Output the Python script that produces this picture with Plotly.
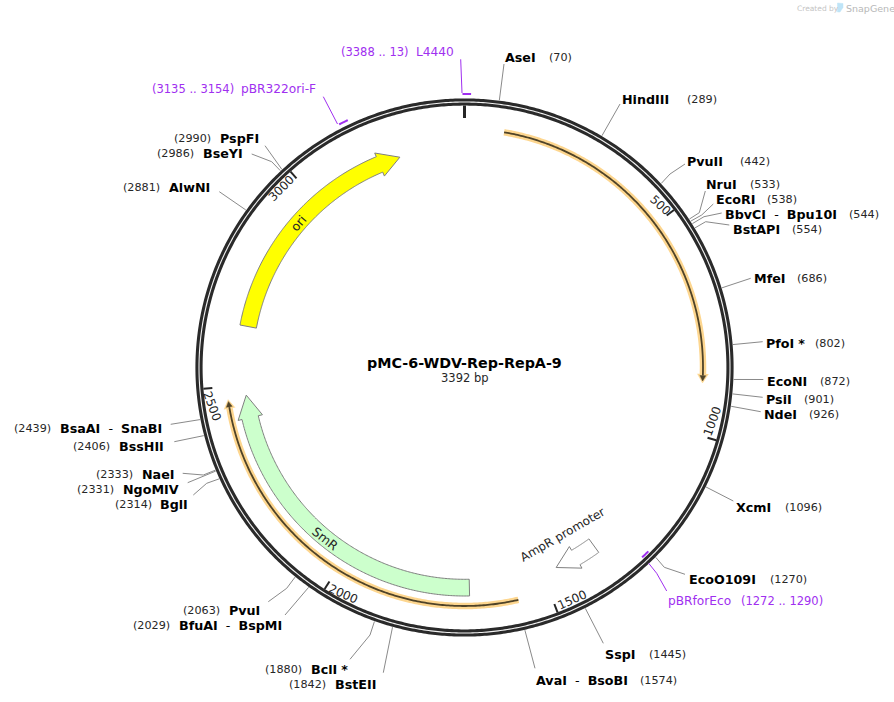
import numpy as np
import plotly.graph_objects as go

# ---------- data ----------
PLASMID_NAME = "pMC-6-WDV-Rep-RepA-9"
PLASMID_BP = 3392

SITE_NAMES = ["AseI", "HindIII", "PvuII", "NruI", "EcoRI", "BbvCI", "BstAPI", "MfeI", "PfoI", "EcoNI",
              "PsiI", "NdeI", "XcmI", "EcoO109I", "SspI", "AvaI", "BstEII", "BclI", "BfuAI", "PvuI",
              "BglI", "NgoMIV", "NaeI", "BssHII", "BsaAI", "AlwNI", "BseYI", "PspFI"]
SITE_PARTNERS = {"BbvCI": "Bpu10I", "AvaI": "BsoBI", "BfuAI": "BspMI", "BsaAI": "SnaBI"}
SITE_STARRED = ["PfoI", "BclI"]
SITE_BP = [70, 289, 442, 533, 538, 544, 554, 686, 802, 872,
           901, 926, 1096, 1270, 1445, 1574, 1842, 1880, 2029, 2063,
           2314, 2331, 2333, 2406, 2439, 2881, 2986, 2990]

TICK_BP = [500, 1000, 1500, 2000, 2500, 3000]

PRIMER_NAMES = ["L4440", "pBR322ori-F", "pBRforEco"]
PRIMER_START = [3388, 3135, 1272]
PRIMER_END = [13, 3154, 1290]

ORF_START = [90, 1573]
ORF_END = [883, 2471]

FEATURE_NAMES = ["ori", "SmR", "AmpR promoter"]
FEATURE_TAIL = [2645, 1684, 1357]
FEATURE_HEAD = [3178, 2420, 1410]
FEATURE_TIP = [3231, 2476, 1464]

# ---------- layout of the drawing (pixels) ----------
W, H = 894, 702
CX, CY = 464.5, 367.5
R_RING, R_IN = 265.5, 262.0
DARK = "#262626"
GREY = "#8a8a8a"
PURPLE = "#a02ff0"
NAME_SIZE, POS_SIZE = 12.7, 11.2

# leader end (x, y), optional elbow, name x, position x, row y, in site order
SITE_LAYOUT = {
    "AseI": ((504, 64), None, 505, 549, 57),
    "HindIII": ((620, 104), None, 622, 687, 99),
    "PvuII": ((685, 164), (670, 174), 687, 740, 161),
    "NruI": ((705.3, 191), (699.3, 212.7), 706, 750, 184),
    "EcoRI": ((713.3, 204), (701.7, 215), 716, 767, 199),
    "BbvCI": ((721.7, 213), (704, 216.7), 725, 849, 214),
    "BstAPI": ((729.3, 225), (705.7, 221.7), 733, 792, 229),
    "MfeI": ((750.7, 278.3), None, 754, 797, 278),
    "PfoI": ((762.7, 341.7), None, 766, 815, 343),
    "EcoNI": ((763.3, 379.5), None, 767, 820, 381),
    "PsiI": ((762.7, 397.3), None, 766, 804, 399),
    "NdeI": ((760.7, 411.7), None, 764, 809, 414),
    "XcmI": ((733.3, 501), None, 736, 785, 507),
    "EcoO109I": ((685, 574.3), (664.3, 567.3), 689, 770, 579),
    "SspI": ((603.3, 643.3), None, 605, 649, 654),
    "AvaI": ((535, 668.3), None, 536, 640, 680),
    "BstEII": ((383.3, 672.7), None, 335, 289, 684),
    "BclI": ((350, 659.3), (370, 635), 311, 265, 669),
    "BfuAI": ((285, 615), None, 179, 133, 625),
    "PvuI": ((268.3, 601.7), (286.7, 588.3), 229, 183, 610),
    "BglI": ((193.3, 495), (206.7, 483.3), 160, 115, 504),
    "NgoMIV": ((187.7, 482.7), None, 123, 77, 489),
    "NaeI": ((182.7, 473.3), (203.3, 475), 142, 96, 474),
    "BssHII": ((174.3, 441.7), None, 119, 73, 446),
    "BsaAI": ((170.7, 424.3), None, 60, 14, 428),
    "AlwNI": ((219.3, 191.7), None, 169, 123, 187),
    "BseYI": ((251.7, 154), (271.7, 161.7), 203, 157, 153),
    "PspFI": ((265, 145.7), None, 220, 174, 138),
}
TICK_TEXT_XY = [(660, 205, 42), (712.5, 421, -70), (572, 600, -24), (343, 594, 24), (212, 406, 70), (281.7, 188, -45)]
# primer: radius, leader points, name x, position x, row y
PRIMER_LAYOUT = {
    "L4440": (273.5, [(462, 93), (460.7, 59.3)], 416, 341, 52),
    "pBR322ori-F": (273.5, [(337.5, 124), (323.3, 96.7)], 241, 152, 89),
    "pBRforEco": (260, [(648.7, 563.3), (656.7, 573.3), (666.7, 591)], 668, 741, 601),
}
FEATURE_STYLE = {
    "ori": ("#ffff00", (298, 223, -49), 12.5),
    "SmR": ("#ccffcc", (325, 538, 38), 12.5),
    "AmpR promoter": ("#ffffff", (562, 535, -30), 12),
}


def polar(bp, r):
    a = np.radians(np.asarray(bp, dtype=float) / PLASMID_BP * 360.0)
    return CX + r * np.sin(a), CY - r * np.cos(a)


def arc(b0, b1, r, n=200):
    return polar(np.linspace(b0, b1, n), r)


fig = go.Figure()
annotations = []


def line(x, y, color, width):
    fig.add_trace(go.Scatter(x=list(x), y=list(y), mode="lines", hoverinfo="skip", showlegend=False,
                             line=dict(color=color, width=width, simplify=False)))


def poly(x, y, fill, edge, width=1):
    fig.add_trace(go.Scatter(x=list(x), y=list(y), mode="lines", fill="toself", fillcolor=fill, hoverinfo="skip",
                             showlegend=False, line=dict(color=edge, width=width, simplify=False)))


def text(x, y, s, size, color=DARK, anchor="left", angle=0):
    annotations.append(dict(x=x, y=y, xref="x", yref="y", text=s, showarrow=False,
                            xanchor=anchor, yanchor="middle", textangle=angle, borderpad=0, borderwidth=0,
                            font=dict(family="DejaVu Sans", size=size, color=color)))


# numbered ticks
x, y = polar([0, 0], np.array([R_IN, 249.5]))
line(x, y, DARK, 3)
for bp, (tx, ty, ang) in zip(TICK_BP, TICK_TEXT_XY):
    x, y = polar([bp, bp], np.array([R_IN, 253.0]))
    line(x, y, DARK, 2)
    text(tx, ty, str(bp), 12, anchor="center", angle=ang)

# restriction sites
for name, bp in zip(SITE_NAMES, SITE_BP):
    end, elbow, nx, px, ry = SITE_LAYOUT[name]
    x0, y0 = polar(bp, 269.5)
    pts = [(x0, y0)] + ([elbow] if elbow else []) + [end]
    line([p[0] for p in pts], [p[1] for p in pts], GREY, 1)
    label = f"<b>{name}</b>"
    if name in SITE_PARTNERS:
        label += f"  -  <b>{SITE_PARTNERS[name]}</b>"
    if name in SITE_STARRED:
        label += " <b>*</b>"
    text(nx, ry, label, NAME_SIZE, "#000000")
    text(px, ry, f"({bp})", POS_SIZE)

# backbone ring: one dark band split by a thin light line
x, y = arc(0, PLASMID_BP, R_RING, 720)
line(x, y, "#2a2a2a", 7.2)
line(x, y, "#f2f2f2", 1.1)

# primers
for name, s, e in zip(PRIMER_NAMES, PRIMER_START, PRIMER_END):
    r, pts, nx, px, ry = PRIMER_LAYOUT[name]
    s2 = s - PLASMID_BP if s > e else s
    x, y = arc(s2, e, r, 12)
    line(x, y, PURPLE, 2)
    line([p[0] for p in pts], [p[1] for p in pts], PURPLE, 1)
    text(nx, ry, name, 12.2, PURPLE)
    text(px, ry, f"({s} .. {e})", 11.5, PURPLE)

# ORF style arcs with halo
HALO, CORE = "#fdd68f", "#4f4328"
for s, e in zip(ORF_START, ORF_END):
    back = e - 9 / (2 * np.pi * 238.5) * PLASMID_BP
    bx, by = arc(s, back, 238.5)
    line(bx, by, HALO, 6.5)
    hx = [polar(back, 244)[0], polar(e, 238.5)[0], polar(back, 233)[0]]
    hy = [polar(back, 244)[1], polar(e, 238.5)[1], polar(back, 233)[1]]
    poly(hx, hy, HALO, HALO, 0.5)
    back2 = e - 7.5 / (2 * np.pi * 238.5) * PLASMID_BP
    dx, dy = arc(s, back2, 238.5)
    line(dx, dy, CORE, 1.8)
    back3 = e - 2 / (2 * np.pi * 238.5) * PLASMID_BP
    hx = [polar(back2, 241.5)[0], polar(back3, 238.5)[0], polar(back2, 235.5)[0]]
    hy = [polar(back2, 241.5)[1], polar(back3, 238.5)[1], polar(back2, 235.5)[1]]
    poly(hx, hy, CORE, CORE, 0.5)

# block arrows
for name, tail, head, tip in zip(FEATURE_NAMES, FEATURE_TAIL, FEATURE_HEAD, FEATURE_TIP):
    fill, (tx, ty, ang), size = FEATURE_STYLE[name]
    ox, oy = arc(tail, head, 228.5)
    ix, iy = arc(head, tail, 211.8)
    hox, hoy = polar(head, 232.5)
    hix, hiy = polar(head, 207.5)
    tipx, tipy = polar(tip, 220)
    xs = list(ox) + [hox, tipx, hix] + list(ix) + [ox[0]]
    ys = list(oy) + [hoy, tipy, hiy] + list(iy) + [oy[0]]
    poly(xs, ys, fill, "#7f7f7f", 1)
    text(tx, ty, name, size, anchor="center", angle=ang)

# centre title
text(464, 363, f"<b>{PLASMID_NAME}</b>", 14.3, color="#000000", anchor="center")
text(465, 378, f"{PLASMID_BP} bp", 11.5, anchor="center")

# watermark
text(797, 8, "Created by", 7.5, color="#c4c4c4")
text(846, 8, "SnapGene", 9.5, color="#b8b8b8")
poly([837.5, 843, 843, 840, 837.5, 837.5], [3, 3.5, 7.5, 12, 12, 3], "#bfe4f7", "#bfe4f7", 0.5)

fig.update_layout(
    width=W, height=H, margin=dict(l=0, r=0, t=0, b=0), paper_bgcolor="white", plot_bgcolor="white",
    showlegend=False, hovermode=False, annotations=annotations,
    xaxis=dict(range=[0, W], visible=False, fixedrange=True),
    yaxis=dict(range=[H, 0], visible=False, fixedrange=True),
)
fig.write_html("out.html", config=dict(displayModeBar=False),
               post_script="document.body.style.margin='0';document.documentElement.style.overflow='hidden';")
